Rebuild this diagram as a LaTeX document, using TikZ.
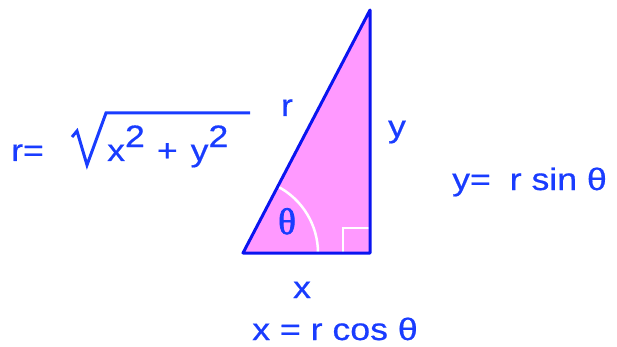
\documentclass[tikz,border=0pt]{standalone}
\usepackage{fontspec}
\setmainfont[FakeStretch=1.15,FakeBold=0.6]{Liberation Sans}
\newfontfamily\greekfont[FakeBold=2]{Liberation Serif}
\usepackage{tikz}
\usetikzlibrary{calc}
\definecolor{myblue}{RGB}{25,60,255}
\definecolor{myedge}{RGB}{10,20,240}
\definecolor{mypink}{RGB}{255,153,255}
\tikzset{lbl/.style={text=myblue,font=\fontsize{31}{34}\selectfont,inner sep=0pt}}
\begin{document}
\begin{tikzpicture}[x=1pt,y=-1pt]
    \useasboundingbox (0,0) rectangle (617,347);
    \coordinate (A) at (243,253);
    \coordinate (B) at (370,253);
    \coordinate (C) at (370,10);
    \fill[mypink] (A) -- (B) -- (C) -- cycle;
    \draw[white,line width=2.5pt] (318,253) arc[start angle=0,end angle=-62.4,radius=75];
    \draw[white,line width=2pt] (343,253) -- (343,228) -- (370,228);
    \draw[myedge,line width=3pt,line join=round] (A) -- (B) -- (C) -- cycle;
    \node[lbl,anchor=base,font=\fontsize{37}{40}\selectfont] (theta) at (287,234) {\greekfont θ};
    \node[lbl,anchor=base] (hyp) at (287,116) {r};
    \node[lbl,anchor=base] (side) at (397,137) {y};
    \node[lbl,anchor=base] (base) at (302,298) {x};
    % formulas
    \node[lbl,anchor=base west] (req) at (11,161) {r=};
    \draw[myblue,line width=3pt] (72,137) -- (77,131) -- (87,165) -- (106,113) -- (250,113);
    \node[lbl,anchor=base west] (rsq) at (107,161) {x\raisebox{0.45em}{2}\hspace{12pt}+\hspace{13pt}y\raisebox{0.45em}{2}};
    \node[lbl,anchor=base west] (yeq) at (452,190) {y=\hspace{9pt} r sin θ};
    \node[lbl,anchor=base] (xeq) at (335,340) {x = r cos θ};
\end{tikzpicture}
\end{document}
